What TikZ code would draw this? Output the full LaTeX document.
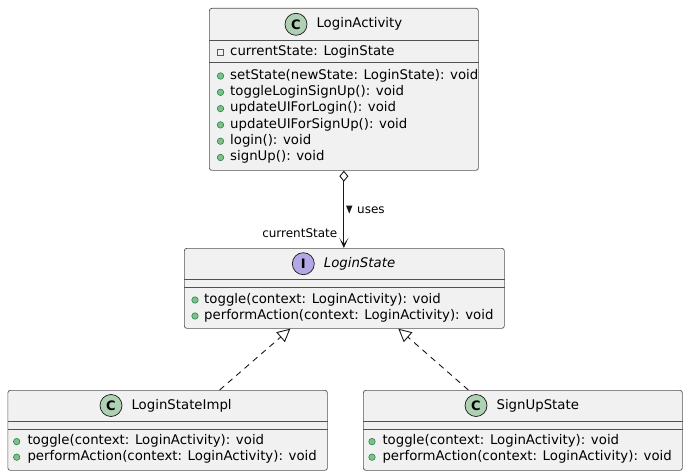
\documentclass[tikz,border=0pt]{standalone}
\usepackage{fontspec}
\setmainfont{DejaVu Sans}
\usetikzlibrary{arrows.meta,positioning,calc}
\definecolor{boxfill}{HTML}{F1F1F1}
\definecolor{boxline}{HTML}{181818}
\definecolor{classc}{HTML}{ADD1B2}
\definecolor{ifacec}{HTML}{B4A7E5}
\definecolor{pubfill}{HTML}{84BE84}
\definecolor{publine}{HTML}{038048}
\definecolor{privline}{HTML}{C82930}
\tikzset{
  classbox/.style={draw=boxline!75, line width=.7pt, fill=boxfill, rounded corners=2.5pt,
    anchor=north west, inner sep=0pt},
  sepline/.style={draw=boxline!75, line width=.7pt},
  cicon/.style={circle, draw=boxline, line width=.7pt, fill=classc, minimum size=22pt,
    inner sep=0pt, font=\fontsize{13}{13}\selectfont\bfseries},
  iicon/.style={cicon, fill=ifacec},
  title/.style={inner sep=0pt, font=\fontsize{13.3}{16}\selectfont},
  member/.style={anchor=west, inner sep=0pt, text height=9.5pt, text depth=3pt,
    font=\fontsize{13.3}{16}\selectfont},
  pub/.style={circle, draw=publine, line width=.5pt, fill=pubfill, minimum size=6.5pt, inner sep=0pt},
  priv/.style={rectangle, draw=privline, line width=.7pt, minimum size=6pt, inner sep=0pt},
  lbl/.style={inner sep=0pt, font=\fontsize{12}{14}\selectfont},
  assoc/.style={draw=boxline, line width=.9pt,
    {Diamond[open, fill=white, length=11pt, width=9pt]}-{Stealth[length=10pt, width=9pt, inset=6pt]}},
  realize/.style={draw=boxline, line width=.9pt, dash pattern=on 6pt off 5pt,
    -{Triangle[open, fill=white, length=13pt, width=13pt]}},
}

\begin{document}
\begin{tikzpicture}[x=1pt,y=-1pt]
\useasboundingbox (0,0) rectangle (688,476);

% ----- LoginActivity -----
\node[classbox, minimum width=269pt, minimum height=162pt] (act) at (209,8) {};
\draw[sepline] (act.west |- 0,40.5) -- (act.east |- 0,40.5);
\draw[sepline] (act.west |- 0,62.5) -- (act.east |- 0,62.5);
\node[cicon] (actIcon) at (296,24.3) {C};
\node[title, anchor=west, right=9pt of actIcon] (actName) {LoginActivity};
\node[priv] (actA) at (220.5,52) {};
\node[member] (actAt) at (230,52) {currentState: LoginState};
\foreach \m [count=\i] in {setState(newState: LoginState): void, toggleLoginSignUp(): void,
    updateUIForLogin(): void, updateUIForSignUp(): void, login(): void, signUp(): void} {
  \node[pub] (actP\i) at (220.5,59.7+16.3*\i) {};
  \node[member] (actM\i) at (230,59.7+16.3*\i) {\m};
}

% ----- LoginState (interface) -----
\node[classbox, minimum width=320pt, minimum height=80pt] (state) at (184,248) {};
\draw[sepline] (state.west |- 0,279) -- (state.east |- 0,279);
\draw[sepline] (state.west |- 0,287.5) -- (state.east |- 0,287.5);
\node[iicon] (stateIcon) at (303.3,263.7) {I};
\node[title, anchor=west, right=9pt of stateIcon] (stateName) {\itshape LoginState};
\foreach \m [count=\i] in {toggle(context: LoginActivity): void,
    performAction(context: LoginActivity): void} {
  \node[pub] (stateP\i) at (195,284+16*\i) {};
  \node[member] (stateM\i) at (204,284+16*\i) {\m};
}

% ----- LoginStateImpl -----
\node[classbox, minimum width=319.5pt, minimum height=80pt] (impl) at (7.5,390) {};
\draw[sepline] (impl.west |- 0,421) -- (impl.east |- 0,421);
\draw[sepline] (impl.west |- 0,429) -- (impl.east |- 0,429);
\node[cicon] (implIcon) at (111,405.5) {C};
\node[title, anchor=west, right=9pt of implIcon] (implName) {LoginStateImpl};
\foreach \m [count=\i] in {toggle(context: LoginActivity): void,
    performAction(context: LoginActivity): void} {
  \node[pub] (implP\i) at (16.7,426+15.6*\i) {};
  \node[member] (implM\i) at (27.3,426+15.6*\i) {\m};
}

% ----- SignUpState -----
\node[classbox, minimum width=319pt, minimum height=80pt] (sign) at (363,390) {};
\draw[sepline] (sign.west |- 0,421) -- (sign.east |- 0,421);
\draw[sepline] (sign.west |- 0,429) -- (sign.east |- 0,429);
\node[cicon] (signIcon) at (476,405.5) {C};
\node[title, anchor=west, right=9pt of signIcon] (signName) {SignUpState};
\foreach \m [count=\i] in {toggle(context: LoginActivity): void,
    performAction(context: LoginActivity): void} {
  \node[pub] (signP\i) at (372,426+15.6*\i) {};
  \node[member] (signM\i) at (382.3,426+15.6*\i) {\m};
}

% ----- relations -----
\draw[assoc] (act.south) -- (act.south |- state.north);
\node[lbl, anchor=west] (uses) at (357,210) {uses};
\fill[boxline] ($(uses.west)+(-11,-4.5)$) -- ++(6.5,0) -- ++(-3.25,8) -- cycle;
\node[lbl, anchor=east] (role) at (337.5,233) {currentState};

\draw[realize] ($(impl.north)+(52,0)$) -- ($(state.south)+(-54,0)$);
\draw[realize] ($(sign.north)+(-54.5,0)$) -- ($(state.south)+(54,0)$);

\end{tikzpicture}
\end{document}
